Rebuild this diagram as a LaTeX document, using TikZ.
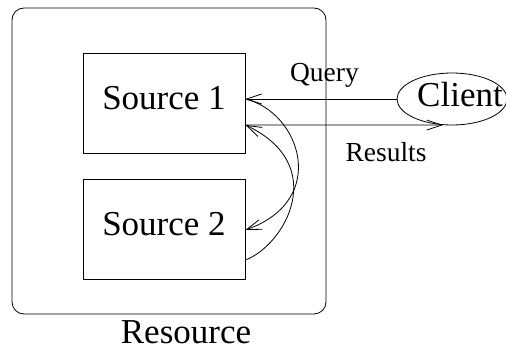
\documentclass[tikz,border=0pt]{standalone}
\usepackage{fontspec}
\setmainfont{Liberation Serif}
\usetikzlibrary{arrows.meta,shapes.geometric}
\begin{document}
\begin{tikzpicture}[x=1pt,y=-1pt,
  line width=0.8pt,
  big/.style={font=\fontsize{35}{42}\selectfont},
  small/.style={font=\fontsize{27.5}{33}\selectfont},
  srcbox/.style={draw, minimum width=162pt, minimum height=100pt, inner sep=0pt, text depth=10pt, big},
  arr/.style={-{Straight Barb[length=15pt,width=10pt]}}
]
\useasboundingbox (0,0) rectangle (506,352);
\draw[rounded corners=12pt] (12,8) rectangle (326,314);
\node[srcbox] (s1) at (164,103) {Source 1};
\node[srcbox] (s2) at (164,229) {Source 2};
\node[draw, ellipse, minimum width=110pt, minimum height=52pt, inner sep=0pt] (client) at (452,99) {};
\node[big, anchor=base] (clienttext) at (460,107) {Client};
\node[small, anchor=base] (query) at (324.5,82) {Query};
\node[small, anchor=base] (results) at (386,162) {Results};
\node[big, anchor=base, inner sep=0pt] (resource) at (186,344) {Resource};
\draw[arr] (client.west) -- ([yshift=4pt]s1.east);
\draw[arr] ([yshift=-22pt]s1.east) -- (client.-109);
\draw[arr] ([yshift=4pt]s1.east) .. controls (300,112) and (330,200) .. ([yshift=-1pt]s2.east);
\draw[arr] ([yshift=-31pt]s2.east) .. controls (285,245) and (330,165) .. ([yshift=-22pt]s1.east);
\end{tikzpicture}
\end{document}
